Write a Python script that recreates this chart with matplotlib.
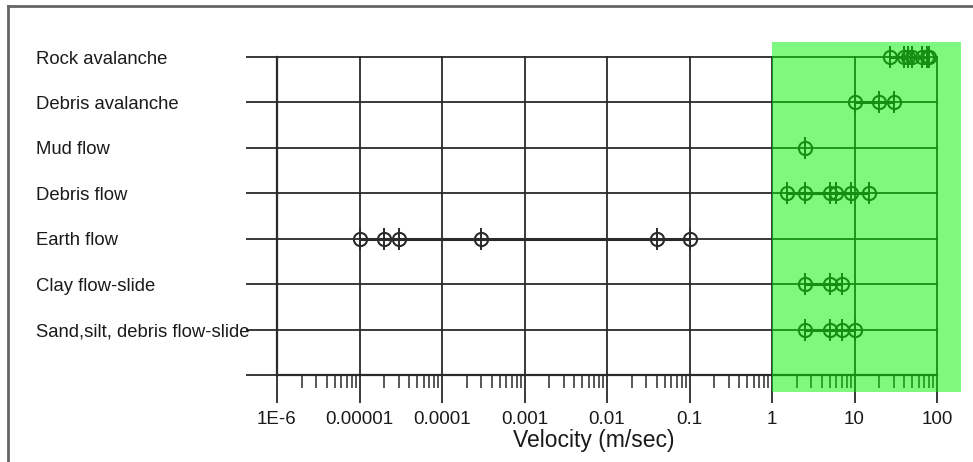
import matplotlib
matplotlib.use("Agg")
import matplotlib.pyplot as plt
import matplotlib.transforms as mtransforms
from matplotlib.patches import Rectangle
from matplotlib.lines import Line2D
from matplotlib.ticker import LogLocator, NullFormatter, FixedLocator

plt.rcParams['font.family'] = ['Liberation Sans', 'DejaVu Sans']

categories = ["Rock avalanche", "Debris avalanche", "Mud flow", "Debris flow",
              "Earth flow", "Clay flow-slide", "Sand,silt, debris flow-slide"]
velocities = [
    [27, 40, 45, 50, 65, 75, 80],
    [10, 20, 30],
    [2.5],
    [1.5, 2.5, 5, 6, 9, 15],
    [1e-5, 2e-5, 3e-5, 3e-4, 0.04, 0.1],
    [2.5, 5, 7],
    [2.5, 5, 7, 10],
]
xtick_values = [1e-6, 1e-5, 1e-4, 1e-3, 1e-2, 1e-1, 1, 10, 100]
xtick_labels = ["1E-6", "0.00001", "0.0001", "0.001", "0.01", "0.1", "1", "10", "100"]
xlabel = "Velocity (m/sec)"
fast_zone = (1, 195)

W, H = 973, 462
fig = plt.figure(figsize=(W / 100, H / 100), dpi=100)
ax = fig.add_axes([277 / W, 1 - 375 / H, (937 - 277) / W, (375 - 57) / H])

n = len(categories)
ypos = [n - i for i in range(n)]
ink = "#2a2a2a"

ax.set_xscale("log")
ax.set_xlim(1e-6, 100)
ax.set_ylim(0, n)

# grid
for xv in xtick_values:
    ax.axvline(xv, color=ink, lw=1.3, zorder=1, clip_on=False)
for yv in range(0, n + 1):
    ax.axhline(yv, color=ink, lw=1.3, zorder=1, clip_on=False)

for y, vals in zip(ypos, velocities):
    ax.plot([min(vals), max(vals)], [y, y], color=ink, lw=2.2, zorder=2,
            solid_capstyle='butt', clip_on=False)
    ax.plot(vals, [y] * len(vals), linestyle='none', marker='|', ms=16,
            mew=1.4, color=ink, zorder=3, clip_on=False)
    ax.plot(vals, [y] * len(vals), linestyle='none', marker='o', ms=9.5,
            mfc='none', mew=1.5, mec=ink, zorder=4, clip_on=False)

for s in ["top", "right"]:
    ax.spines[s].set_visible(False)
for s in ["left", "bottom"]:
    ax.spines[s].set_color(ink)
    ax.spines[s].set_linewidth(1.6)

ax.xaxis.set_major_locator(FixedLocator(xtick_values))
ax.set_xticklabels(xtick_labels, fontsize=13.5, color="#1a1a1a")
ax.xaxis.set_minor_locator(LogLocator(base=10, subs=range(2, 10), numticks=20))
ax.xaxis.set_minor_formatter(NullFormatter())
ax.tick_params(axis='x', which='major', direction='out', length=20, width=1.3,
               color=ink, pad=6)
ax.tick_params(axis='x', which='minor', direction='out', length=9, width=1.1,
               color=ink)
ax.set_yticks(range(0, n + 1))
ax.set_yticklabels([])
ax.tick_params(axis='y', which='major', direction='out', length=22, width=1.3,
               color=ink)
ax.set_xlabel(xlabel, fontsize=16.5, color="#1a1a1a", labelpad=2)
ax.xaxis.set_label_coords(0.48, -0.17)

trans = mtransforms.blended_transform_factory(fig.transFigure, ax.transData)
for y, name in zip(ypos, categories):
    ax.text(36 / W, y, name, transform=trans, ha='left', va='center_baseline',
            fontsize=13.3, color="#1a1a1a")

# fast zone highlight
ax.add_patch(Rectangle((fast_zone[0], -0.374), fast_zone[1] - fast_zone[0],
                       n + 0.374 + 0.33, facecolor=(0.0, 0.95, 0.0), alpha=0.5,
                       edgecolor='none', zorder=10, clip_on=False))

# frame
fig.add_artist(Line2D([8 / W, 1], [1 - 6 / H, 1 - 6 / H], color="#666666", lw=2))
fig.add_artist(Line2D([8 / W, 8 / W], [0, 1 - 6 / H], color="#666666", lw=2))

fig.savefig("out.png", dpi=100)
